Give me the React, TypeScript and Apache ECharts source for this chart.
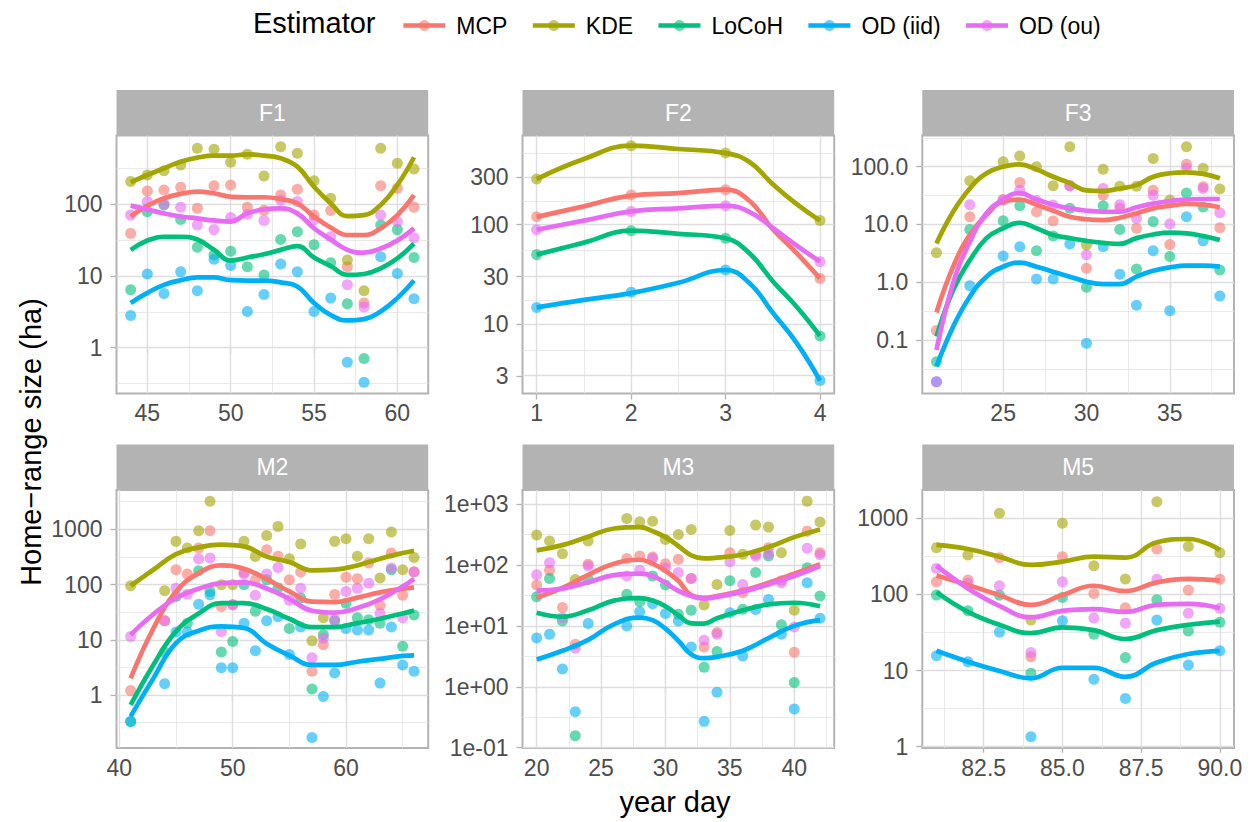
import React, { useEffect, useRef } from "react";
import * as echarts from "echarts";

const ESTIMATORS = ["MCP", "KDE", "LoCoH", "OD (iid)", "OD (ou)"];
const COLORS = ["#F8766D", "#A3A500", "#00BF7D", "#00B0F6", "#E76BF3"];

// ---------- F1 ----------
const F1_days = [44, 45, 46, 47, 48, 49, 50, 51, 52, 53, 54, 55, 56, 57, 58, 59, 60, 61];
const F1_MCP = [39, 152, 157, 171, 87, 180, 184, 90, 82, 133, 160, 70, 81, 13.4, 4.2, 180, 165, 90];
const F1_KDE = [205, 253, 291, 349, 596, 577, 380, 491, 245, 628, 507, 211, 120, 16.6, 6.2, 596, 368, 307];
const F1_LoCoH = [6.4, 78, 97, 61, 25, 19.5, 22, 13.4, 10.3, 32, 41, 27, 15.2, 4.1, 0.71, 51, 44, 18];
const F1_ODiid = [2.8, 10.6, 5.7, 11.4, 6.2, 17, 13.9, 3.2, 5.5, 14.6, 11.4, 3.2, 4.9, 0.63, 0.33, 18.5, 10.8, 4.8];
const F1_ODou = [70, 108, 100, 90, 51, 44, 65, 72, 59, 114, 108, 60, 35, 7.5, 3.7, 70, 57, 34];
const F1_lineDays = [44, 45, 46, 47, 48, 49, 50, 51, 52, 53, 54, 55, 56, 57, 58, 59, 60, 61];
const F1L_MCP = [67, 94, 120, 138, 149, 141, 126, 124, 124, 117, 102, 67, 47, 37, 37, 46, 70, 133];
const F1L_KDE = [200, 253, 314, 388, 442, 471, 471, 491, 471, 432, 331, 174, 102, 68, 70, 97, 184, 447];
const F1L_LoCoH = [23, 31, 35, 35, 32, 23, 16.3, 18, 20, 23, 26, 18, 13.7, 10.3, 10.6, 12.7, 17.5, 28];
const F1L_ODiid = [4.2, 5.8, 7.5, 8.7, 9.5, 9.5, 8.7, 8.6, 8.6, 8.1, 7.1, 4.2, 2.85, 2.4, 2.5, 3.2, 4.9, 8.6];
const F1L_ODou = [95, 84, 74, 67, 63, 59, 57, 74, 84, 87, 74, 46, 32, 23, 21, 24, 31, 46];

// ---------- F2 ----------
const F2_days = [1, 2, 3, 4];
const F2_MCP = [120, 199, 225, 28.8];
const F2_KDE = [288, 624, 526, 110];
const F2_LoCoH = [50, 87, 73, 7.6];
const F2_ODiid = [14.7, 20.9, 35, 2.7];
const F2_ODou = [89, 136, 155, 42.5];
const F2_lineDays = [1, 1.5, 2, 2.5, 3, 3.25, 3.5, 3.75, 4];
const F2L_MCP = [120, 153, 196, 208, 225, 175, 90, 52, 28.8];
const F2L_KDE = [288, 458, 624, 578, 526, 430, 256, 162, 110];
const F2L_LoCoH = [50, 66, 87, 81, 73, 52, 27, 15, 7.6];
const F2L_ODiid = [14.7, 17.5, 20.5, 26, 35, 26, 13, 6.5, 2.7];
const F2L_ODou = [89, 110, 136, 146, 155, 135, 93, 62, 42.5];

// ---------- F3 ----------
const F3_days = [21, 23, 25, 26, 27, 28, 29, 30, 31, 32, 33, 34, 35, 36, 37, 38];
const F3_MCP = [0.146, 13.6, 27, 53, 16.6, 11.5, 47, 1.74, 32, 19, 8.6, 39, 4.5, 110, 45, 8.8];
const F3_KDE = [3.25, 57, 122, 153, 100, 47, 222, 4.4, 90, 46, 46, 139, 26.5, 222, 94, 41];
const F3_LoCoH = [0.042, 8.2, 11.6, 21, 3.5, 6.3, 19, 0.82, 21, 8.2, 1.7, 11.2, 2.8, 35, 20, 1.63];
const F3_ODiid = [0.019, 0.87, 2.85, 4.1, 1.14, 1.14, 4.6, 0.088, 4.1, 1.37, 0.4, 3.5, 0.32, 13.6, 5.2, 0.58];
const F3_ODou = [0.019, 22, 26.5, 39, 26, 21.7, 47, 3.0, 42, 22, 12.8, 32, 10.2, 94, 42, 16];
const F3_lineDays = [21, 22, 23, 24, 25, 26, 27, 28, 29, 30, 31, 32, 33, 34, 35, 36, 37, 38];
const F3L_MCP = [0.3, 1.86, 6.6, 14.6, 25, 27, 22, 17.3, 13.6, 12.3, 11.9, 13.1, 15.6, 19, 21, 22.6, 22, 19.8];
const F3L_KDE = [4.7, 16.6, 42, 77, 100, 110, 90, 67, 52, 39, 38, 42, 48, 67, 77, 80, 75, 63];
const F3L_LoCoH = [0.115, 0.73, 2.4, 5.8, 8.6, 10.7, 8.6, 6.6, 5.8, 5.2, 4.8, 4.6, 5.8, 6.7, 7.2, 7.0, 6.3, 5.4];
const F3L_ODiid = [0.035, 0.17, 0.56, 1.25, 1.86, 2.18, 1.86, 1.52, 1.25, 1.02, 0.93, 0.93, 1.25, 1.58, 1.81, 1.94, 1.94, 1.86];
const F3L_ODou = [0.067, 0.96, 5.0, 15.6, 27, 35, 27, 22, 19, 17.3, 16.6, 16.6, 19.8, 23, 25.5, 27, 27.6, 27.6];

// ---------- M2 ----------
const M2_days = [41, 44, 45, 46, 47, 48, 49, 50, 51, 52, 53, 54, 55, 56, 57, 58, 59, 60, 61, 62, 63, 64, 65, 66];
const M2_MCP = [1.2, 22, 186, 155, 458, 944, 40, 43, 166, 122, 427, 324, 122, 169, 2.7, 8.1, 66, 135, 127, 245, 42, 372, 64, 170];
const M2_KDE = [95, 77, 605, 458, 944, 3210, 99, 99, 605, 323, 776, 1130, 294, 541, 9.6, 25, 605, 677, 324, 677, 131, 893, 186, 310];
const M2_LoCoH = [0.33, 6.0, 61, 20, 178, 75, 6.0, 9.3, 99, 33, 122, 87, 16, 57, 1.28, 12.3, 22, 46, 25, 23, 20, 186, 7.6, 28];
const M2_ODiid = [0.33, 1.6, 13.8, 13.8, 44, 65, 3.1, 3.1, 20, 6.3, 22, 26, 5.4, 17, 0.17, 0.94, 2.5, 16, 15, 15, 1.64, 17, 3.5, 2.7];
const M2_ODou = [11.5, 22, 86, 67, 294, 302, 14, 43, 155, 64, 155, 204, 52, 86, 4.7, 10.7, 23, 75, 86, 106, 30, 199, 25, 169];
const M2_lineDays = [41, 43, 45, 47, 49, 51, 53, 55, 57, 59, 61, 63, 65, 66];
const M2L_MCP = [2.0, 16, 74, 161, 222, 193, 125, 75, 49, 48, 58, 72, 84, 89];
const M2L_KDE = [95, 185, 356, 471, 527, 491, 320, 256, 181, 186, 222, 294, 372, 410];
const M2L_LoCoH = [0.66, 3.5, 14.2, 30, 46, 46, 36, 24, 17, 17, 20, 24, 30, 34];
const M2L_ODiid = [0.41, 2.0, 8.7, 14.6, 17.5, 16.3, 8.5, 5.2, 3.5, 3.5, 4.0, 4.5, 5.1, 5.2];
const M2L_ODou = [12.3, 29, 57, 84, 106, 109, 85, 55, 33.5, 31, 37.5, 54, 92, 127];

// ---------- M3 ----------
const M3_days = [20, 21, 22, 23, 24, 27, 28, 29, 30, 31, 32, 33, 34, 35, 36, 37, 38, 39, 40, 41, 42];
const M3_MCP = [47, 82, 20, 5.0, 103, 128, 140, 135, 105, 124, 60, 4.5, 7.8, 159, 35, 150, 192, 55, 3.7, 360, 159];
const M3_KDE = [310, 247, 153, 58, 247, 580, 513, 525, 263, 318, 384, 22, 48, 370, 150, 452, 419, 159, 18, 1120, 507];
const M3_LoCoH = [30, 60, 12, 0.157, 58, 33, 25, 66, 47, 15.5, 18, 2.1, 3.8, 55, 18.7, 75, 140, 10.4, 1.17, 90, 31];
const M3_ODiid = [6.3, 7.3, 1.95, 0.39, 10.9, 10, 17, 23, 16, 12, 4.5, 0.27, 0.81, 16.5, 3.2, 18.6, 27, 7.3, 0.43, 51, 13.4];
const M3_ODou = [69, 109, 13.7, 4.3, 96, 66, 82, 128, 90, 75, 60, 5.8, 7.3, 113, 48, 140, 153, 51, 9.6, 188, 147];
const M3_lineDays = [20, 22, 24, 26, 28, 29, 30, 31, 32, 33, 34, 36, 38, 40, 42];
const M3L_MCP = [29, 42, 69, 105, 122, 105, 80, 55, 32, 29, 31, 38, 51, 72, 103];
const M3L_KDE = [174, 212, 291, 398, 419, 360, 287, 205, 144, 128, 132, 149, 197, 287, 384];
const M3L_LoCoH = [16.5, 14.2, 18, 26, 28.5, 26, 21, 15, 11, 10.9, 13.3, 18, 22.6, 24, 21];
const M3L_ODiid = [2.8, 3.9, 5.9, 10.6, 13.7, 12.4, 9, 5.7, 3.4, 2.95, 3.1, 3.9, 6.3, 10, 12.4];
const M3L_ODou = [38, 41, 52, 68, 72, 66, 51, 37.5, 31, 28, 30, 36.5, 48, 66, 96];

// ---------- M5 ----------
const M5_days = [81, 82, 83, 84, 85, 86, 87, 88, 89, 90];
const M5_MCP = [147, 155, 304, 15.2, 313, 103, 67, 395, 114, 158];
const M5_KDE = [412, 330, 1164, 46, 859, 239, 160, 1656, 425, 354];
const M5_LoCoH = [98, 61, 98, 9.2, 91, 30, 14.8, 85, 33, 43];
const M5_ODiid = [15.7, 13.1, 32, 1.35, 45, 7.7, 4.3, 46, 11.8, 18.2];
const M5_ODou = [220, 140, 130, 17.3, 147, 49, 42, 158, 56.5, 66];
const M5_lineDays = [81, 82, 83, 84, 85, 86, 87, 88, 89, 90];
const M5L_MCP = [177, 133, 98, 73, 98, 130, 111, 144, 160, 152];
const M5L_KDE = [447, 395, 313, 244, 270, 313, 304, 484, 535, 384];
const M5L_LoCoH = [107, 59, 40, 31, 37, 34, 26, 34, 40, 44];
const M5L_ODiid = [18.2, 13.1, 9.9, 7.9, 10.9, 10.9, 8.3, 12.8, 16.5, 18.2];
const M5L_ODou = [239, 120, 71, 50, 61, 64, 59, 73, 75, 66];

// ---------- axis ticks ----------
const F1_xTicks = [45, 50, 55, 60];
const F2_xTicks = [1, 2, 3, 4];
const F3_xTicks = [25, 30, 35];
const M2_xTicks = [40, 50, 60];
const M3_xTicks = [20, 25, 30, 35, 40];
const M5_xTicks = [82.5, 85, 87.5, 90];
const M5_xLabels = ["82.5", "85.0", "87.5", "90.0"];

const F1_yTicks = [1, 10, 100];
const F1_yLabels = ["1", "10", "100"];
const F2_yTicks = [3, 10, 30, 100, 300];
const F2_yLabels = ["3", "10", "30", "100", "300"];
const F3_yTicks = [0.1, 1, 10, 100];
const F3_yLabels = ["0.1", "1.0", "10.0", "100.0"];
const M2_yTicks = [1, 10, 100, 1000];
const M2_yLabels = ["1", "10", "100", "1000"];
const M3_yTicks = [0.1, 1, 10, 100, 1000];
const M3_yLabels = ["1e-01", "1e+00", "1e+01", "1e+02", "1e+03"];
const M5_yTicks = [1, 10, 100, 1000];
const M5_yLabels = ["1", "10", "100", "1000"];

// ---------- layout ----------
const COL_LEFT = [116.5, 522.5, 922.3];
const ROW_TOP = [135.5, 490];
const PANEL_W = 311.7;
const PANEL_H = 258;
const STRIP_H = 45.5;
const FONT = "'Liberation Sans', Arial, Helvetica, sans-serif";

type Panel = {
  name: string; col: number; row: number;
  days: number[]; pts: number[][];
  lineDays: number[]; lines: number[][];
  xMin: number; xMax: number; xTicks: number[]; xLabels: string[];
  yMin: number; yMax: number; yTicks: number[]; yLabels: string[];
};

const PANELS: Panel[] = [
  { name: "F1", col: 0, row: 0, days: F1_days, pts: [F1_MCP, F1_KDE, F1_LoCoH, F1_ODiid, F1_ODou],
    lineDays: F1_lineDays, lines: [F1L_MCP, F1L_KDE, F1L_LoCoH, F1L_ODiid, F1L_ODou],
    xMin: 43.15, xMax: 61.85, xTicks: F1_xTicks, xLabels: F1_xTicks.map(String),
    yMin: -0.637, yMax: 2.953, yTicks: F1_yTicks, yLabels: F1_yLabels },
  { name: "F2", col: 1, row: 0, days: F2_days, pts: [F2_MCP, F2_KDE, F2_LoCoH, F2_ODiid, F2_ODou],
    lineDays: F2_lineDays, lines: [F2L_MCP, F2L_KDE, F2L_LoCoH, F2L_ODiid, F2L_ODou],
    xMin: 0.85, xMax: 4.15, xTicks: F2_xTicks, xLabels: F2_xTicks.map(String),
    yMin: 0.301, yMax: 2.898, yTicks: F2_yTicks, yLabels: F2_yLabels },
  { name: "F3", col: 2, row: 0, days: F3_days, pts: [F3_MCP, F3_KDE, F3_LoCoH, F3_ODiid, F3_ODou],
    lineDays: F3_lineDays, lines: [F3L_MCP, F3L_KDE, F3L_LoCoH, F3L_ODiid, F3L_ODou],
    xMin: 20.15, xMax: 38.85, xTicks: F3_xTicks, xLabels: F3_xTicks.map(String),
    yMin: -1.926, yMax: 2.54, yTicks: F3_yTicks, yLabels: F3_yLabels },
  { name: "M2", col: 0, row: 1, days: M2_days, pts: [M2_MCP, M2_KDE, M2_LoCoH, M2_ODiid, M2_ODou],
    lineDays: M2_lineDays, lines: [M2L_MCP, M2L_KDE, M2L_LoCoH, M2L_ODiid, M2L_ODou],
    xMin: 39.75, xMax: 67.25, xTicks: M2_xTicks, xLabels: M2_xTicks.map(String),
    yMin: -0.96, yMax: 3.712, yTicks: M2_yTicks, yLabels: M2_yLabels },
  { name: "M3", col: 1, row: 1, days: M3_days, pts: [M3_MCP, M3_KDE, M3_LoCoH, M3_ODiid, M3_ODou],
    lineDays: M3_lineDays, lines: [M3L_MCP, M3L_KDE, M3L_LoCoH, M3L_ODiid, M3L_ODou],
    xMin: 18.9, xMax: 43.1, xTicks: M3_xTicks, xLabels: M3_xTicks.map(String),
    yMin: -1.006, yMax: 3.232, yTicks: M3_yTicks, yLabels: M3_yLabels },
  { name: "M5", col: 2, row: 1, days: M5_days, pts: [M5_MCP, M5_KDE, M5_LoCoH, M5_ODiid, M5_ODou],
    lineDays: M5_lineDays, lines: [M5L_MCP, M5L_KDE, M5L_LoCoH, M5L_ODiid, M5L_ODou],
    xMin: 80.55, xMax: 90.45, xTicks: M5_xTicks, xLabels: M5_xLabels,
    yMin: -0.017, yMax: 3.372, yTicks: M5_yTicks, yLabels: M5_yLabels },
];

function minors(majors: number[], lo: number, hi: number): number[] {
  const out: number[] = [];
  for (let k = 0; k < majors.length - 1; k++) out.push((majors[k] + majors[k + 1]) / 2);
  const n = majors.length;
  if (n > 1) {
    out.push(majors[0] - (majors[1] - majors[0]) / 2);
    out.push(majors[n - 1] + (majors[n - 1] - majors[n - 2]) / 2);
  }
  return out.filter((v) => v > lo && v < hi);
}

function nearestLabel(v: number, vals: number[], labels: string[]): string {
  let best = 0;
  for (let k = 1; k < vals.length; k++) if (Math.abs(vals[k] - v) < Math.abs(vals[best] - v)) best = k;
  return labels[best];
}

function buildOption() {
  const grid: any[] = [];
  const xAxis: any[] = [];
  const yAxis: any[] = [];
  const series: any[] = [];
  const graphic: any[] = [];

  PANELS.forEach((p, i) => {
    const left = COL_LEFT[p.col];
    const top = ROW_TOP[p.row];
    grid.push({
      left, top, width: PANEL_W, height: PANEL_H,
      show: true, borderColor: "#b3b3b3", borderWidth: 2, backgroundColor: "#ffffff",
      containLabel: false, outerBoundsMode: "none",
    });
    const yLog = p.yTicks.map((v) => Math.log10(v));
    const tickStyle = { show: true, length: 6, inside: false, lineStyle: { color: "#b3b3b3", width: 1.3 } };
    xAxis.push({
      type: "value", gridIndex: i, min: p.xMin, max: p.xMax,
      splitLine: { show: false }, axisLine: { show: false },
      axisTick: { ...tickStyle, customValues: p.xTicks },
      axisLabel: {
        customValues: p.xTicks, color: "#4d4d4d", fontSize: 23, fontFamily: FONT, margin: 8,
        formatter: (v: number) => nearestLabel(v, p.xTicks, p.xLabels),
      },
    });
    yAxis.push({
      type: "value", gridIndex: i, min: p.yMin, max: p.yMax,
      splitLine: { show: false }, axisLine: { show: false },
      axisTick: { ...tickStyle, customValues: yLog },
      axisLabel: {
        customValues: yLog, color: "#4d4d4d", fontSize: 23, fontFamily: FONT, margin: 14,
        formatter: (v: number) => nearestLabel(v, yLog, p.yLabels),
      },
    });

    const ml: any[] = [];
    const minorStyle = { color: "#e4e4e4", width: 0.8, type: "solid" };
    const majorStyle = { color: "#dedede", width: 1.4, type: "solid" };
    minors(yLog, p.yMin, p.yMax).forEach((v) => ml.push({ yAxis: v, lineStyle: minorStyle }));
    minors(p.xTicks, p.xMin, p.xMax).forEach((v) => ml.push({ xAxis: v, lineStyle: minorStyle }));
    yLog.forEach((v) => ml.push({ yAxis: v, lineStyle: majorStyle }));
    p.xTicks.forEach((v) => ml.push({ xAxis: v, lineStyle: majorStyle }));
    series.push({
      type: "scatter", xAxisIndex: i, yAxisIndex: i, data: [], silent: true, z: 1,
      markLine: {
        silent: true, symbol: ["none", "none"], z: 1, animation: false,
        label: { show: false }, emphasis: { disabled: true }, data: ml,
      },
    });

    ESTIMATORS.forEach((name, e) => {
      series.push({
        type: "line", name, xAxisIndex: i, yAxisIndex: i,
        data: p.lineDays.map((d, k) => [d, Math.log10(p.lines[e][k])]),
        smooth: 0.45, showSymbol: false, symbol: "circle", symbolSize: 11,
        lineStyle: { width: 4.7, color: COLORS[e] }, itemStyle: { color: COLORS[e] },
        z: 3, silent: true,
      });
      series.push({
        type: "scatter", name, xAxisIndex: i, yAxisIndex: i,
        data: p.days.map((d, k) => [d, Math.log10(p.pts[e][k])]),
        symbolSize: 11, itemStyle: { color: COLORS[e], opacity: 0.6 },
        z: 2, silent: true,
      });
    });

    graphic.push({
      type: "rect", shape: { x: left, y: top - STRIP_H, width: PANEL_W, height: STRIP_H },
      style: { fill: "#b3b3b3" }, silent: true,
    });
    graphic.push({
      type: "text", x: left + PANEL_W / 2, y: top - STRIP_H / 2, silent: true,
      style: { text: p.name, fill: "#ffffff", fontSize: 23, fontFamily: FONT, textAlign: "center", textVerticalAlign: "middle" },
    });
  });

  graphic.push({
    type: "text", x: 675, y: 802, silent: true,
    style: { text: "year day", fill: "#000000", fontSize: 29, fontFamily: FONT, textAlign: "center", textVerticalAlign: "middle" },
  });
  graphic.push({
    type: "text", x: 31, y: 442, rotation: Math.PI / 2, silent: true,
    style: { text: "Home\u2212range size (ha)", fill: "#000000", fontSize: 29, fontFamily: FONT, textAlign: "center", textVerticalAlign: "middle" },
  });
  graphic.push({
    type: "text", x: 253, y: 23, silent: true,
    style: { text: "Estimator", fill: "#000000", fontSize: 29, fontFamily: FONT, textAlign: "left", textVerticalAlign: "middle" },
  });

  return {
    animation: false,
    backgroundColor: "#ffffff",
    textStyle: { fontFamily: FONT },
    legend: {
      data: ESTIMATORS, left: 396, top: 9, itemWidth: 42, itemHeight: 14, itemGap: 23,
      selectedMode: false,
      lineStyle: { width: 4.7 },
      itemStyle: { opacity: 0.6 },
      textStyle: { fontSize: 23, color: "#000000", fontFamily: FONT, padding: [0, 0, 0, 6] },
    },
    grid, xAxis, yAxis, series, graphic,
  };
}

export default function App() {
  const ref = useRef<HTMLDivElement>(null);
  useEffect(() => {
    if (!ref.current) return;
    const chart = echarts.init(ref.current, undefined, { renderer: "svg" });
    chart.setOption(buildOption() as any);
    return () => chart.dispose();
  }, []);
  return <div ref={ref} style={{ position: "fixed", left: 0, top: 0, width: 1253, height: 822 }} />;
}
